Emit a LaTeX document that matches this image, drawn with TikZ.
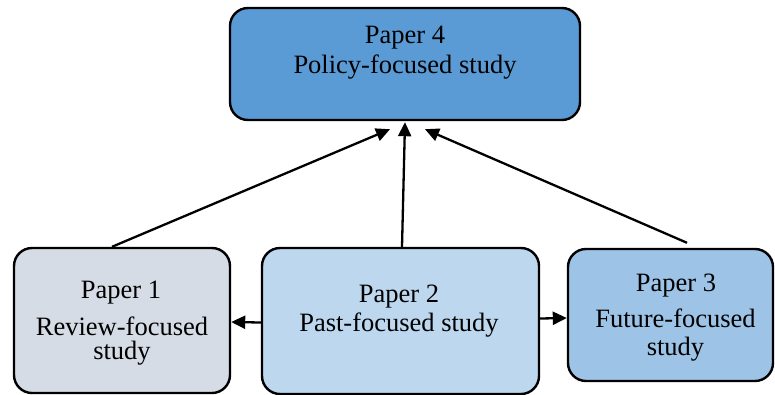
\documentclass[tikz,border=0pt]{standalone}
\usepackage{fontspec}
\setmainfont{Liberation Serif}
\usetikzlibrary{arrows.meta}

\definecolor{policyblue}{HTML}{5B9BD5}
\definecolor{reviewgrey}{HTML}{D6DCE5}
\definecolor{pastblue}{HTML}{BDD7EE}
\definecolor{futureblue}{HTML}{9DC3E6}

\tikzset{
  paperbox/.style={draw=black, line width=2.4pt, rounded corners=18pt,
    rectangle, inner sep=0pt},
  papertext/.style={anchor=base, inner sep=0pt,
    font=\fontsize{26.5}{30}\selectfont},
  link/.style={line width=2.3pt, -{Triangle[length=14pt,width=13pt]}}
}

\begin{document}
\begin{tikzpicture}[x=1pt,y=-1pt]
  \useasboundingbox (0,0) rectangle (775,394);

  % boxes
  \node[paperbox, fill=policyblue, minimum width=350pt, minimum height=112pt] (p4) at (405,64) {};
  \node[paperbox, fill=reviewgrey, minimum width=216pt, minimum height=145pt] (p1) at (122,320.5) {};
  \node[paperbox, fill=pastblue, minimum width=277pt, minimum height=146pt] (p2) at (400.5,321) {};
  \node[paperbox, fill=futureblue, minimum width=205pt, minimum height=132pt] (p3) at (670.5,315) {};

  % labels
  \node[papertext] (p4a) at (405,43) {Paper 4};
  \node[papertext] (p4b) at (405,73) {Policy-focused study};
  \node[papertext] (p1a) at (121,298) {Paper 1};
  \node[papertext] (p1b) at (122,335) {Review-focused};
  \node[papertext] (p1c) at (122,359) {study};
  \node[papertext] (p2a) at (399,302) {Paper 2};
  \node[papertext] (p2b) at (399,331) {Past-focused study};
  \node[papertext] (p3a) at (676,291) {Paper 3};
  \node[papertext] (p3b) at (675.5,327) {Future-focused};
  \node[papertext] (p3c) at (675.5,355) {study};

  % connectors
  \draw[link] ([xshift=-10pt]p1.north) -- ([xshift=-15pt,yshift=-8pt]p4.south);
  \draw[link] ([xshift=1.5pt]p2.north) -- ([yshift=-1pt]p4.south);
  \draw[link] ([xshift=16.5pt,yshift=5pt]p3.north) -- ([xshift=20pt,yshift=-8pt]p4.south);
  \draw[link] ([yshift=-1.5pt]p2.west) -- ([yshift=-1.5pt]p1.east);
  \draw[link] ([yshift=2.5pt]p2.east) -- ([yshift=-3pt]p3.west);
\end{tikzpicture}
\end{document}
